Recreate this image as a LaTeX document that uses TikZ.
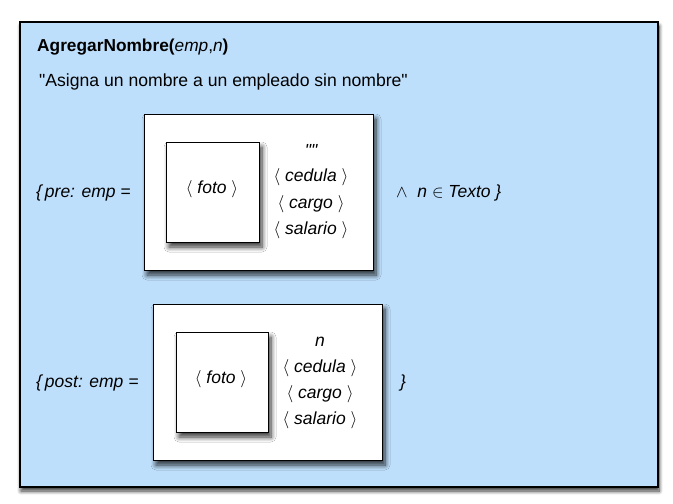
\documentclass[tikz,border=0pt]{standalone}
\usepackage{fontspec}
\setmainfont{Liberation Sans}[Ligatures=TeXOff]
\usetikzlibrary{shadows.blur}
\definecolor{bgblue}{HTML}{BEDFFB}
\tikzset{
  panel/.style={draw=black, line width=1.2pt, fill=bgblue, blur shadow={shadow xshift=1pt, shadow yshift=-4pt, shadow blur steps=8, shadow blur radius=4pt, shadow opacity=80}},
  card/.style={draw=black, line width=1pt, fill=white, blur shadow={shadow xshift=3pt, shadow yshift=-5pt, shadow blur steps=8, shadow blur radius=5pt, shadow opacity=80}},
  ttl/.style={font=\fontsize{17.3}{20}\selectfont, inner sep=0pt},
  txt/.style={font=\fontsize{17.6}{20}\selectfont, inner sep=0pt},
  itx/.style={font=\fontsize{17.5}{20}\selectfont\itshape, inner sep=0pt},
}
\begin{document}
\begin{tikzpicture}[x=1pt,y=-1pt]
\useasboundingbox (0,0) rectangle (673,504);
\path[panel] (20,22) rectangle (658,487);
\node[ttl, anchor=west] (title) at (37,47) {\textbf{AgregarNombre(}\textit{emp},\textit{n}\textbf{)}};
\node[txt, anchor=west] (desc) at (39,82) {"Asigna un nombre a un empleado sin nombre"};
% pre
\path[card] (144,114) rectangle (373,270);
\path[card] (166,142) rectangle (259,242);
\node[itx, anchor=west] (pre) at (36,193) {\{\,pre: emp =};
\node[itx] (foto1) at (212,189) {$\langle$ foto $\rangle$};
\node[itx] (q1) at (311,150) {""};
\node[itx] (ced1) at (311,177) {$\langle$ cedula $\rangle$};
\node[itx] (car1) at (311,204) {$\langle$ cargo $\rangle$};
\node[itx] (sal1) at (311,230) {$\langle$ salario $\rangle$};
\node[itx, anchor=west] (and1) at (396,193) {$\wedge$ \ n $\in$ Texto \}};
% post
\path[card] (153,304) rectangle (382,460);
\path[card] (176,332) rectangle (268,432);
\node[itx, anchor=west] (post) at (36,383) {\{\,post: emp =};
\node[itx] (foto2) at (221,379) {$\langle$ foto $\rangle$};
\node[itx] (n2) at (320,342) {n};
\node[itx] (ced2) at (320,368) {$\langle$ cedula $\rangle$};
\node[itx] (car2) at (320,394) {$\langle$ cargo $\rangle$};
\node[itx] (sal2) at (320,420) {$\langle$ salario $\rangle$};
\node[itx] (close2) at (403,383) {\}};
\end{tikzpicture}
\end{document}
